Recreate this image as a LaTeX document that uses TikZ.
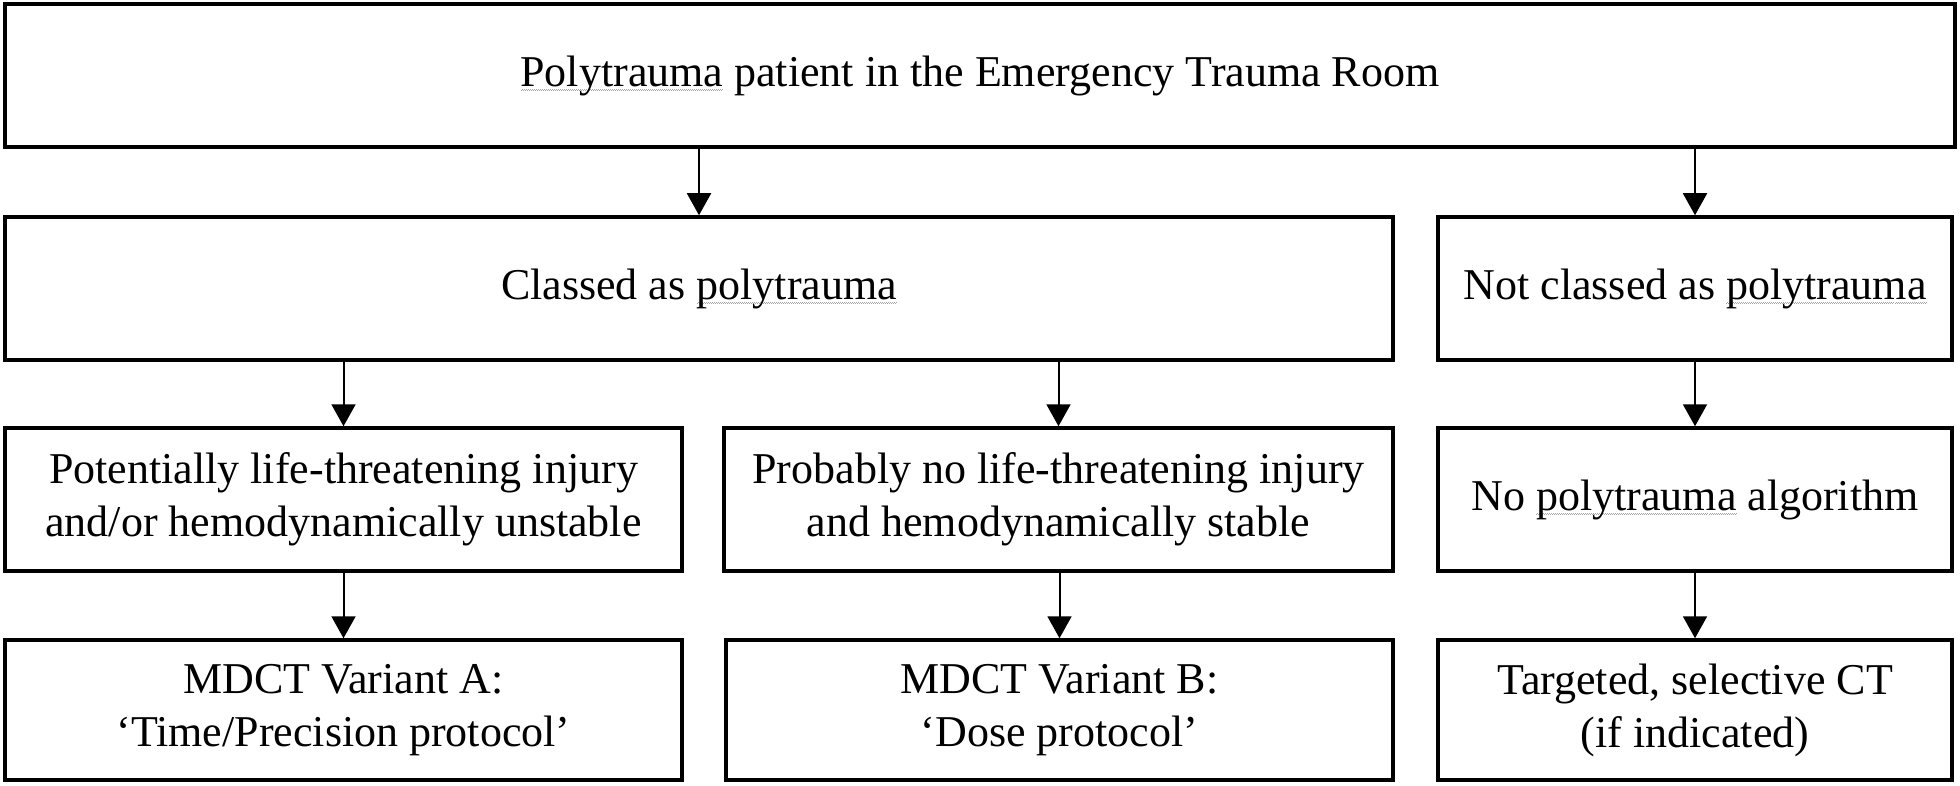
\documentclass[tikz,border=0pt]{standalone}
\usepackage{fontspec}
\setmainfont{Liberation Serif}
\usetikzlibrary{arrows.meta}
\newsavebox\squigbox
\newcommand\squig[1]{\sbox\squigbox{#1}\rlap{\raisebox{-4.5pt}{\color{gray!70}\hbox to \wd\squigbox{\xleaders\hbox to 2pt{\rule[0pt]{1pt}{0.9pt}\rule[0.9pt]{1pt}{0.9pt}}\hfill}}}\usebox\squigbox}
\tikzset{
  box/.style={draw=black, line width=3.5pt, rectangle, inner sep=0pt, align=center,
    font=\fontsize{44}{53}\selectfont},
  arr/.style={line width=2pt, -{Triangle[width=24pt,length=22pt]}}
}
\begin{document}
\begin{tikzpicture}[x=1pt,y=-1pt]
\useasboundingbox (0,0) rectangle (1960,786);
% row 1
\node[box, minimum width=1950pt, minimum height=143pt] (top) at (980,75.5)
  {\squig{Polytrauma} patient in the Emergency Trauma Room};
% row 2
\node[box, minimum width=1388pt, minimum height=143pt] (cl) at (699,288.5)
  {Classed as \squig{polytrauma}};
\node[box, minimum width=514pt, minimum height=143pt] (ncl) at (1695,288.5)
  {Not classed as \squig{polytrauma}};
% row 3
\node[box, minimum width=677pt, minimum height=143pt] (pl) at (343.5,499.5)
  {Potentially life-threatening injury\\and/or hemodynamically unstable};
\node[box, minimum width=669pt, minimum height=143pt] (pn) at (1058.5,499.5)
  {Probably no life-threatening injury\\and hemodynamically stable};
\node[box, minimum width=514pt, minimum height=143pt] (na) at (1695,499.5)
  {No \squig{polytrauma} algorithm};
% row 4
\node[box, minimum width=677pt, minimum height=140pt] (va) at (343.5,710)
  {MDCT Variant A:\\‘Time/Precision protocol’};
\node[box, minimum width=667pt, minimum height=140pt] (vb) at (1059.5,710)
  {MDCT Variant B:\\‘Dose protocol’};
\node[box, minimum width=514pt, minimum height=140pt] (ct) at (1695,710)
  {Targeted, selective CT\\(if indicated)};
% arrows
\draw[arr] (top.south -| cl.north) -- (cl.north);
\draw[arr] (top.south -| ncl.north) -- (ncl.north);
\draw[arr] (cl.south -| pl.north) -- (pl.north);
\draw[arr] (cl.south -| pn.north) -- (pn.north);
\draw[arr] (ncl.south) -- (na.north);
\draw[arr] (pl.south) -- (va.north);
\draw[arr] (pn.south -| vb.north) -- (vb.north);
\draw[arr] (na.south) -- (ct.north);
\end{tikzpicture}
\end{document}
